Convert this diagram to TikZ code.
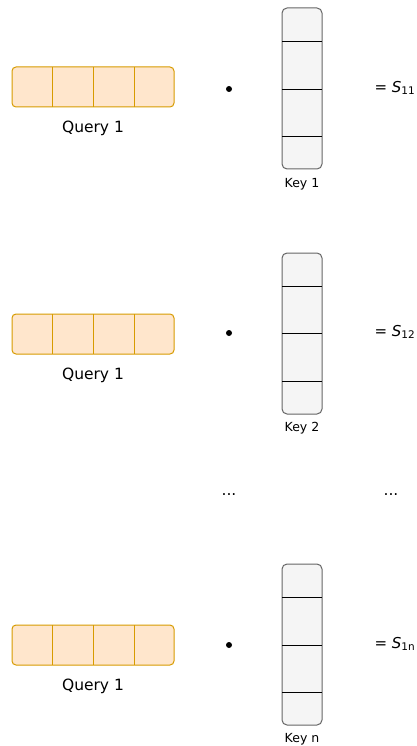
\documentclass[tikz,border=0pt]{standalone}
\usepackage{fontspec}
\setmainfont{DejaVu Sans}
\definecolor{qfill}{HTML}{FFE6CC}
\definecolor{qline}{HTML}{D79B00}
\definecolor{kfill}{HTML}{F5F5F5}
\definecolor{kline}{HTML}{666666}
\tikzset{
  query/.style={draw=qline, fill=qfill, line width=1pt, rounded corners=4pt, minimum width=162pt, minimum height=40pt, inner sep=0pt},
  key/.style={draw=kline, fill=kfill, line width=1pt, rounded corners=5pt, minimum width=40pt, minimum height=161pt, inner sep=0pt},
  qlabel/.style={font=\fontsize{15.5}{18}\selectfont},
  klabel/.style={font=\fontsize{12.5}{14}\selectfont},
  score/.style={font=\fontsize{15}{18}\selectfont, anchor=west},
  dotmark/.style={circle, fill=black, inner sep=0pt, minimum size=6pt}
}
\begin{document}
\begin{tikzpicture}[x=1pt,y=-1pt]
\useasboundingbox (0,0) rectangle (416,746);

% first key
\node[query] (q1) at (93,87) {};
\foreach \x in {52,93,134}
{
\draw[qline, line width=1pt] (\x,67)--(\x,107);
}
\node[qlabel] (ql1) at (93,128) {Query 1};
\node[dotmark] (d1) at (229,89) {};
\node[key] (k1) at (302,88.5) {};
\foreach \y in {41,89,136}
{
\draw[line width=0.9pt] (282,\y)--(322,\y);
}
\node[klabel] (kl1) at (302,184) {Key 1};
\node[score] (s1) at (371,88) {= \textit{S}\textsubscript{11}};

% second key
\node[query] (q2) at (93,334) {};
\foreach \x in {52,93,134}
{
\draw[qline, line width=1pt] (\x,314)--(\x,354);
}
\node[qlabel] (ql2) at (93,375) {Query 1};
\node[dotmark] (d2) at (229,333) {};
\node[key] (k2) at (302,333.5) {};
\foreach \y in {286,333,381}
{
\draw[line width=0.9pt] (282,\y)--(322,\y);
}
\node[klabel] (kl2) at (302,428) {Key 2};
\node[score] (s2) at (371,332) {= \textit{S}\textsubscript{12}};

% the ones in between
\node[qlabel] (e1) at (229,495) {...};
\node[qlabel] (e2) at (391,495) {...};

% last key
\node[query] (q3) at (93,645) {};
\foreach \x in {52,93,134}
{
\draw[qline, line width=1pt] (\x,625)--(\x,665);
}
\node[qlabel] (ql3) at (93,686) {Query 1};
\node[dotmark] (d3) at (229,645) {};
\node[key] (k3) at (302,644.5) {};
\foreach \y in {597,645,692}
{
\draw[line width=0.9pt] (282,\y)--(322,\y);
}
\node[klabel] (kl3) at (302,739) {Key n};
\node[score] (s3) at (371,644) {= \textit{S}\textsubscript{1n}};

\end{tikzpicture}
\end{document}
